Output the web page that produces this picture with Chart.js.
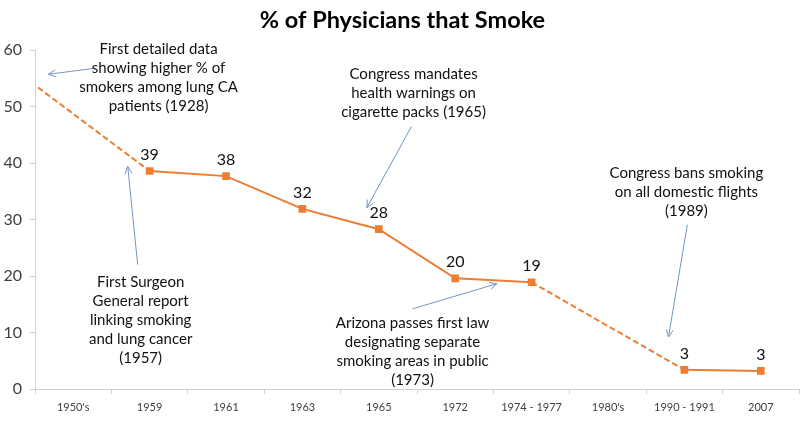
<!DOCTYPE html>
<html>
<head>
<meta charset="utf-8">
<script src="https://cdn.jsdelivr.net/npm/chart.js@4"></script>
<style>
  html, body { margin: 0; padding: 0; background: #fff; overflow: hidden; }
  #wrap { width: 805px; height: 447px; }
</style>
</head>
<body>
<div id="wrap"><canvas id="chart" width="805" height="447"></canvas></div>
<script>
// 数据
const categories = ["1950's", '1959', '1961', '1963', '1965', '1972', '1974 - 1977', "1980's", '1990 - 1991', '2007'];
const smokers = [null, 38.6, 37.7, 31.9, 28.3, 19.6, 18.9, null, 3.4, 3.2];
const valueLabels = [null, '39', '38', '32', '28', '20', '19', null, '3', '3'];
// 1950's 之前的虚线引入段（x 为类别序号）
const leadX = [-0.46, 1];
const leadY = [53.4, 38.6];

// 注释：文字中心 (类别序号, 数值)，箭头 from -> to
const notes = [
  { lines: ['First detailed data', 'showing higher % of', 'smokers among lung CA', 'patients (1928)'],
    at: [1.117, 60.18], from: [0.286, 56.8], to: [-0.325, 55.74] },
  { lines: ['First Surgeon', 'General report', 'linking smoking', 'and lung cancer', '(1957)'],
    at: [0.883, 19.0], from: [0.844, 22.01], to: [0.714, 39.41] },
  { lines: ['Congress mandates', 'health warnings on', 'cigarette packs (1965)'],
    at: [4.455, 55.74], from: [4.429, 46.51], to: [3.844, 32.13] },
  { lines: ['Arizona passes first law', 'designating separate', 'smoking areas in public', '(1973)'],
    at: [4.442, 11.72], from: [4.442, 14.2], to: [5.545, 18.64] },
  { lines: ['Congress bans smoking', 'on all domestic flights', '(1989)'],
    at: [8.026, 38.17], from: [8.039, 29.11], to: [7.792, 9.23] },
];

const ORANGE = '#ED7D31';
const ARROW = '#7393c4';
Chart.defaults.font.family = 'Lato, "Open Sans", sans-serif';

const labelPlugin = {
  id: 'valueLabels',
  afterDatasetsDraw(chart) {
    const ctx = chart.ctx;
    const meta = chart.getDatasetMeta(0);
    ctx.save();
    ctx.font = '16px Lato';
    ctx.fillStyle = '#111';
    ctx.textAlign = 'center';
    ctx.textBaseline = 'middle';
    meta.data.forEach((pt, i) => {
      if (!valueLabels[i]) return;
      ctx.fillText(valueLabels[i], pt.x, pt.y - 16);
    });
    ctx.restore();
  },
};

const notePlugin = {
  id: 'notes',
  afterDraw(chart) {
    const ctx = chart.ctx;
    const xs = chart.scales.x2, ys = chart.scales.y;
    const px = p => [xs.getPixelForValue(p[0]), ys.getPixelForValue(p[1])];
    ctx.save();
    for (const n of notes) {
      // 箭头
      const [x1, y1] = px(n.from);
      const [x2, y2] = px(n.to);
      ctx.strokeStyle = ARROW;
      ctx.lineWidth = 1;
      ctx.beginPath();
      ctx.moveTo(x1, y1);
      ctx.lineTo(x2, y2);
      const a = Math.atan2(y2 - y1, x2 - x1);
      const L = 8;
      ctx.moveTo(x2 - L * Math.cos(a - 0.45), y2 - L * Math.sin(a - 0.45));
      ctx.lineTo(x2, y2);
      ctx.lineTo(x2 - L * Math.cos(a + 0.45), y2 - L * Math.sin(a + 0.45));
      ctx.stroke();
      // 文字
      const [cx, cy] = px(n.at);
      ctx.font = '15px Lato';
      ctx.fillStyle = '#111';
      ctx.textAlign = 'center';
      ctx.textBaseline = 'middle';
      n.lines.forEach((t, k) => ctx.fillText(t, cx, cy + k * 19));
    }
    ctx.restore();
  },
};

new Chart(document.getElementById('chart'), {
  type: 'line',
  data: {
    labels: categories,
    datasets: [
      {
        data: smokers,
        borderColor: ORANGE,
        backgroundColor: ORANGE,
        borderWidth: 2,
        spanGaps: true,
        pointStyle: 'rect',
        pointRadius: 4,
        tension: 0,
        segment: {
          // 跨过缺失类别的一段画成虚线
          borderDash: c => (c.p0.skip || c.p1.skip ? [6, 3] : undefined),
        },
      },
      {
        data: leadX.map((x, i) => ({ x, y: leadY[i] })),
        xAxisID: 'x2',
        borderColor: ORANGE,
        borderWidth: 2,
        borderDash: [6, 3],
        pointRadius: 0,
        tension: 0,
      },
    ],
  },
  options: {
    responsive: false,
    animation: false,
    layout: { padding: 0 },
    plugins: {
      legend: { display: false },
      tooltip: { enabled: false },
      title: {
        display: true,
        text: '% of Physicians that Smoke',
        color: '#000',
        font: { size: 23.5, weight: 'bold' },
        padding: { top: 6, bottom: 16 },
      },
    },
    scales: {
      x: {
        type: 'category',
        offset: true,
        grid: { offset: true, drawOnChartArea: false, tickLength: 5, color: '#d0d0d0' },
        border: { color: '#d0d0d0' },
        ticks: { color: '#404040', font: { size: 11 }, padding: 7, maxRotation: 0, autoSkip: false },
        afterFit: s => { s.height = 58; },
      },
      x2: { type: 'linear', display: false, min: -0.5, max: 9.5 },
      y: {
        min: 0,
        max: 60,
        grid: { drawOnChartArea: false, tickLength: 5, color: '#d0d0d0' },
        border: { color: '#d0d0d0' },
        ticks: { stepSize: 10, color: '#404040', font: { size: 16 }, padding: 8 },
        afterFit: s => { s.width = 35; },
      },
    },
  },
  plugins: [labelPlugin, notePlugin],
});
</script>
</body>
</html>
